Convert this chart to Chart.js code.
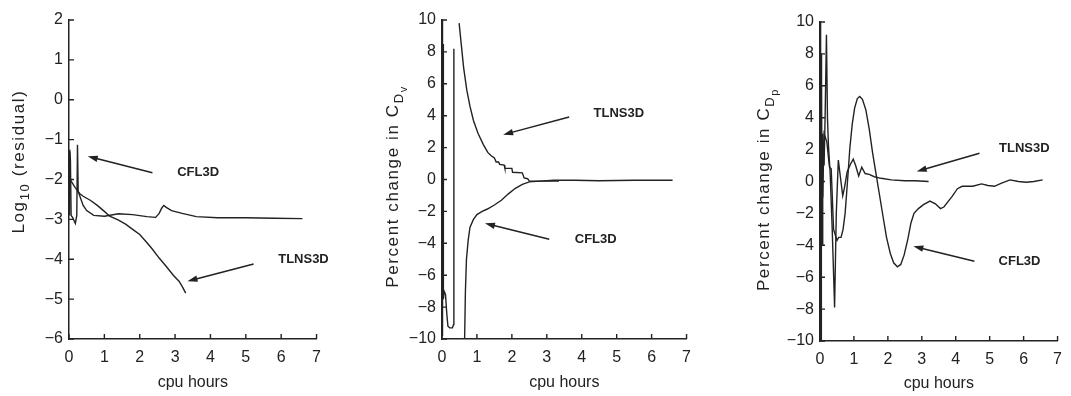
<!DOCTYPE html>
<html>
<head>
<meta charset="utf-8">
<script src="https://cdn.jsdelivr.net/npm/chart.js@4.4.0/dist/chart.umd.min.js"></script>
<style>
  html, body { margin: 0; padding: 0; background: #fff; }
  body { width: 1071px; height: 396px; position: relative; overflow: hidden; }
  .panel { position: absolute; top: 0; height: 396px; }
</style>
</head>
<body>
<div class="panel" style="left:0;width:330px"><canvas id="resChart"></canvas></div>
<div class="panel" style="left:360px;width:340px"><canvas id="cdvChart"></canvas></div>
<div class="panel" style="left:740px;width:331px"><canvas id="cdpChart"></canvas></div>
<script>
// axis ticks
const hourTicks = [0, 1, 2, 3, 4, 5, 6, 7];
const residTicks = [-6, -5, -4, -3, -2, -1, 0, 1, 2];
const pctTicks = [-10, -8, -6, -4, -2, 0, 2, 4, 6, 8, 10];

// left panel: log10 residual vs cpu hours
const resCflX = [0.02, 0.04, 0.06, 0.1, 0.18, 0.22, 0.24, 0.26, 0.3, 0.4, 0.5, 0.7, 1.0, 1.4, 1.8, 2.2, 2.45, 2.55, 2.62, 2.68, 2.75, 2.9, 3.2, 3.6, 4.2, 5.0, 5.8, 6.6];
const resCflY = [-1.25, -1.5, -2.9, -2.95, -3.1, -2.9, -1.13, -2.3, -2.4, -2.65, -2.78, -2.9, -2.92, -2.86, -2.88, -2.93, -2.95, -2.85, -2.72, -2.65, -2.7, -2.78, -2.85, -2.93, -2.96, -2.96, -2.97, -2.98];
const resTlnsX = [0.01, 0.02, 0.03, 0.1, 0.17, 0.3, 0.4, 0.6, 0.8, 1.0, 1.15, 1.4, 1.6, 1.8, 2.0, 2.2, 2.36, 2.55, 2.74, 2.95, 3.11, 3.2, 3.3];
const resTlnsY = [-1.3, -2.9, -2.0, -2.1, -2.2, -2.35, -2.42, -2.52, -2.65, -2.8, -2.92, -3.02, -3.12, -3.25, -3.38, -3.58, -3.75, -3.97, -4.17, -4.4, -4.55, -4.68, -4.85];

// middle panel: percent change in CDv
const cdvTlnsX = [0, 0.005, 0.01, 0.015, 0.02, 0.025, 0.03, 0.035, 0.04, 0.045, 0.06, 0.1, 0.14, 0.17, 0.22, 0.3, 0.33, 0.34, 0.4, 0.49, 0.55, 0.62, 0.71, 0.8, 0.9, 1.03, 1.18, 1.31, 1.4, 1.5, 1.55, 1.62, 1.65, 1.78, 1.8, 2.0, 2.02, 2.3, 2.35, 2.45, 2.5, 3.35];
const cdvTlnsY = [10, -9.5, 9.5, -9.8, 9, -8.5, 8.5, -7, 7, -7.5, -7, -7.2, -8.5, -9.2, -9.3, -9.3, -9.1, 8.2, null, 9.8, 8.5, 7.0, 5.6, 4.6, 3.7, 2.9, 2.2, 1.7, 1.5, 1.35, 1.1, 1.1, 0.95, 0.9, 0.7, 0.7, 0.45, 0.42, 0.1, 0.05, -0.1, -0.1];
const cdvCflX = [0.64, 0.67, 0.7, 0.75, 0.8, 0.9, 1.0, 1.15, 1.3, 1.5, 1.7, 1.9, 2.1, 2.3, 2.5, 2.8, 3.2, 3.8, 4.5, 5.5, 6.6];
const cdvCflY = [-11, -7, -5, -3.8, -3.0, -2.5, -2.2, -2.0, -1.85, -1.6, -1.3, -0.9, -0.55, -0.3, -0.15, -0.1, -0.05, -0.05, -0.08, -0.05, -0.05];

// right panel: percent change in CDp
const cdpTlnsX = [0, 0.01, 0.02, 0.03, 0.04, 0.06, 0.08, 0.12, 0.15, 0.19, 0.22, 0.25, 0.3, 0.36, 0.43, 0.48, 0.54, 0.6, 0.67, 0.72, 0.8, 0.9, 0.98, 1.05, 1.14, 1.23, 1.33, 1.45, 1.6, 1.8, 2.1, 2.5, 2.8, 3.2];
const cdpTlnsY = [3, -9, 8, -10, 6, -4, 3, 1, 4, 9.2, 4, 2.2, 0.5, -3, -7.9, -2, 1.35, 0.3, -0.9, -0.4, 0.6, 1.1, 1.4, 1.0, 0.35, 0.9, 0.5, 0.45, 0.3, 0.2, 0.1, 0.05, 0.05, 0.0];
const cdpCflX = [0, 0.01, 0.015, 0.02, 0.025, 0.03, 0.04, 0.05, 0.08, 0.12, 0.2, 0.28, 0.33, 0.4, 0.5, 0.55, 0.62, 0.68, 0.74, 0.81, 0.88, 0.95, 1.02, 1.1, 1.17, 1.25, 1.35, 1.45, 1.55, 1.65, 1.75, 1.85, 1.96, 2.07, 2.17, 2.28, 2.38, 2.48, 2.59, 2.68, 2.77, 2.9, 3.05, 3.24, 3.4, 3.55, 3.65, 3.9, 4.05, 4.19, 4.5, 4.76, 4.95, 5.14, 5.35, 5.6, 5.85, 6.08, 6.3, 6.56];
const cdpCflY = [-10, 10, -9.5, 9.5, -9, 8, 7, 2, -1, 3, 2.5, 0.9, 0.8, -3, -3.7, -3.5, -3.5, -3.0, -2.0, 0, 2.1, 3.6, 4.6, 5.2, 5.33, 5.15, 4.5, 3.3, 1.8, 0.5, -0.8, -2.1, -3.5, -4.5, -5.1, -5.35, -5.2, -4.6, -3.6, -2.6, -2.0, -1.7, -1.45, -1.23, -1.4, -1.7, -1.6, -0.92, -0.45, -0.3, -0.3, -0.15, -0.25, -0.3, -0.1, 0.1, 0.0, -0.05, 0.0, 0.1];

const ink = '#222';
const FONT = '"Liberation Sans", Arial, sans-serif';

function pts(xs, ys) {
  return xs.map((x, i) => ({ x: x, y: ys[i] }));
}

function drawArrow(ctx, x1, y1, x2, y2) {
  const ang = Math.atan2(y2 - y1, x2 - x1);
  ctx.beginPath();
  ctx.moveTo(x1, y1);
  ctx.lineTo(x2 - 6 * Math.cos(ang), y2 - 6 * Math.sin(ang));
  ctx.stroke();
  ctx.beginPath();
  ctx.moveTo(x2, y2);
  ctx.lineTo(x2 - 10 * Math.cos(ang) + 3.2 * Math.sin(ang), y2 - 10 * Math.sin(ang) - 3.2 * Math.cos(ang));
  ctx.lineTo(x2 - 10 * Math.cos(ang) - 3.2 * Math.sin(ang), y2 - 10 * Math.sin(ang) + 3.2 * Math.cos(ang));
  ctx.closePath();
  ctx.fill();
}

// inward ticks, arrows with labels, axis titles (with subscripts)
const decor = {
  id: 'decor',
  afterDraw(chart) {
    const o = chart.options.plugins.decor;
    const { ctx, chartArea: a, scales: { x, y } } = chart;
    ctx.save();
    ctx.strokeStyle = ink;
    ctx.fillStyle = ink;
    ctx.lineWidth = 1.4;
    ctx.beginPath();
    x.ticks.forEach(t => {
      const p = x.getPixelForValue(t.value);
      ctx.moveTo(p, a.bottom);
      ctx.lineTo(p, a.bottom - 5);
    });
    y.ticks.forEach(t => {
      const p = y.getPixelForValue(t.value);
      ctx.moveTo(a.left, p);
      ctx.lineTo(a.left + 5, p);
    });
    ctx.stroke();

    ctx.font = 'bold 13px ' + FONT;
    ctx.textAlign = 'center';
    ctx.textBaseline = 'middle';
    o.notes.forEach(n => {
      ctx.fillText(n.text, x.getPixelForValue(n.at[0]), y.getPixelForValue(n.at[1]));
      ctx.lineWidth = 1.5;
      drawArrow(ctx, x.getPixelForValue(n.from[0]), y.getPixelForValue(n.from[1]),
        x.getPixelForValue(n.to[0]), y.getPixelForValue(n.to[1]));
    });

    ctx.font = '16px ' + FONT;
    ctx.fillText('cpu hours', (a.left + a.right) / 2, a.bottom + o.xTitleGap);

    // y title, rotated, pieces: [text, level]
    const sizes = [17, 13, 11];
    const shift = [0, 5, 9];
    ctx.letterSpacing = '1.6px';
    let w = 0;
    o.yTitle.forEach(([s, lv]) => { ctx.font = sizes[lv] + 'px ' + FONT; w += ctx.measureText(s).width; });
    ctx.translate(o.titleX, (a.top + a.bottom) / 2 + o.titleDy);
    ctx.rotate(-Math.PI / 2);
    ctx.textAlign = 'left';
    ctx.textBaseline = 'alphabetic';
    let cx = -w / 2;
    o.yTitle.forEach(([s, lv]) => {
      ctx.font = sizes[lv] + 'px ' + FONT;
      ctx.fillText(s, cx, 6 + shift[lv]);
      cx += ctx.measureText(s).width;
    });
    ctx.restore();
  }
};

function minusLabel(v) {
  return v < 0 ? '\u2212' + Math.abs(v) : String(v);
}

function makeChart(id, cfg) {
  const yt = cfg.yTicks;
  return new Chart(document.getElementById(id), {
    type: 'line',
    data: {
      datasets: cfg.series.map(s => ({
        data: pts(s[0], s[1]),
        borderColor: ink,
        borderWidth: 1.4,
        pointRadius: 0,
        tension: 0,
        spanGaps: false
      }))
    },
    options: {
      responsive: true,
      maintainAspectRatio: false,
      animation: false,
      events: [],
      layout: { padding: { top: cfg.top, right: cfg.right, left: 0, bottom: 0 } },
      plugins: {
        legend: { display: false },
        tooltip: { enabled: false },
        decor: { notes: cfg.notes, yTitle: cfg.yTitle, titleX: cfg.titleX, titleDy: cfg.titleDy, xTitleGap: cfg.xTitleGap }
      },
      scales: {
        x: {
          type: 'linear',
          min: hourTicks[0],
          max: hourTicks[hourTicks.length - 1],
          afterBuildTicks: s => { s.ticks = hourTicks.map(v => ({ value: v })); },
          afterFit: s => { s.height = 396 - cfg.bottom; },
          grid: { display: true, drawOnChartArea: false, drawTicks: false },
          border: { display: true, color: ink, width: 1.5 },
          ticks: { color: ink, padding: 9, font: { family: FONT, size: 16 }, callback: minusLabel, maxRotation: 0 }
        },
        y: {
          type: 'linear',
          min: yt[0],
          max: yt[yt.length - 1],
          afterBuildTicks: s => { s.ticks = yt.map(v => ({ value: v })); },
          afterFit: s => { s.width = cfg.left; },
          grid: { display: true, drawOnChartArea: false, drawTicks: false },
          border: { display: true, color: ink, width: 1.5 },
          ticks: { color: ink, padding: 6, font: { family: FONT, size: 16 }, callback: minusLabel }
        }
      }
    },
    plugins: [decor]
  });
}

makeChart('resChart', {
  yTicks: residTicks, left: 69, right: 12, top: 20, bottom: 339,
  titleX: 18, titleDy: -18, xTitleGap: 44,
  yTitle: [['Log', 0], ['10', 1], [' (residual)', 0]],
  series: [[resCflX, resCflY], [resTlnsX, resTlnsY]],
  notes: [
    { text: 'CFL3D', at: [3.65, -1.83], from: [2.36, -1.83], to: [0.53, -1.42] },
    { text: 'TLNS3D', at: [6.63, -4.0], from: [5.22, -4.12], to: [3.35, -4.55] }
  ]
});

makeChart('cdvChart', {
  yTicks: pctTicks, left: 82, right: 12, top: 20, bottom: 339,
  titleX: 32, titleDy: 7, xTitleGap: 44,
  yTitle: [['Percent change in C', 0], ['D', 1], ['v', 2]],
  series: [[cdvTlnsX, cdvTlnsY], [cdvCflX, cdvCflY]],
  notes: [
    { text: 'TLNS3D', at: [5.06, 4.17], from: [3.64, 3.92], to: [1.75, 2.81] },
    { text: 'CFL3D', at: [4.4, -3.75], from: [3.07, -3.75], to: [1.23, -2.75] }
  ]
});

makeChart('cdpChart', {
  yTicks: pctTicks, left: 80, right: 5, top: 22, bottom: 341,
  titleX: 23, titleDy: 8, xTitleGap: 43,
  yTitle: [['Percent change in C', 0], ['D', 1], ['p', 2]],
  series: [[cdpTlnsX, cdpTlnsY], [cdpCflX, cdpCflY]],
  notes: [
    { text: 'TLNS3D', at: [6.02, 2.08], from: [4.7, 1.77], to: [2.85, 0.63] },
    { text: 'CFL3D', at: [5.88, -5.0], from: [4.55, -5.0], to: [2.75, -4.06] }
  ]
});
</script>
</body>
</html>
